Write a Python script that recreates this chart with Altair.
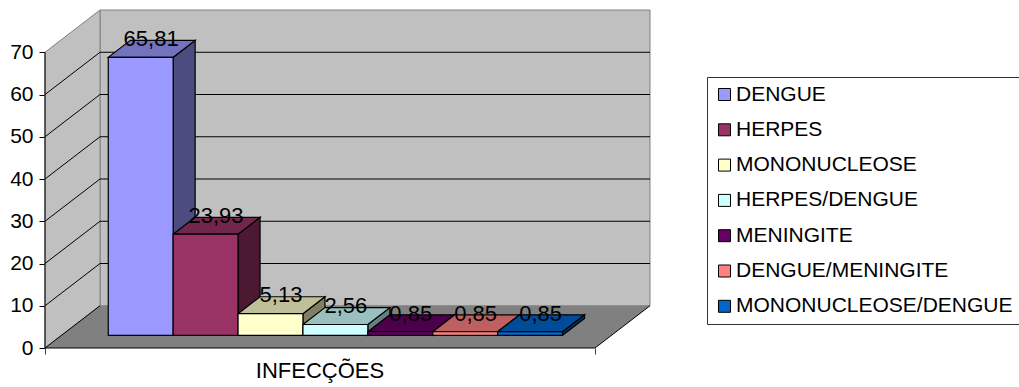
import altair as alt
import pandas as pd

# Share of infections by type (%)
categories = ["DENGUE", "HERPES", "MONONUCLEOSE", "HERPES/DENGUE",
              "MENINGITE", "DENGUE/MENINGITE", "MONONUCLEOSE/DENGUE"]
values = [65.81, 23.93, 5.13, 2.56, 0.85, 0.85, 0.85]
colors = ["#9999FF", "#993366", "#FFFFCC", "#CCFFFF",
          "#660066", "#FF8080", "#0066CC"]
y_ticks = [0, 10, 20, 30, 40, 50, 60, 70]
x_label = "INFECÇÕES"

FONT = "Liberation Sans"

# Pseudo-3D box: depth of the floor expressed in data units
DX, DY = 0.1, 10.0          # horizontal / vertical shift of the back plane
Y_MAX = y_ticks[-1]
BAR_W = 0.118               # width of one bar (category spans 0..1)
GAP = 0.085                 # empty space left of the first bar
F0, F1 = 0.3, 0.7           # front and back of the bars, as depth fractions


def shade(hex_color, k):
    r, g, b = (int(hex_color[i:i + 2], 16) for i in (1, 3, 5))
    return "#{:02X}{:02X}{:02X}".format(int(r * k), int(g * k), int(b * k))


front_rows, top_rows, side_rows, label_rows = [], [], [], []
for i, (cat, v, col) in enumerate(zip(categories, values, colors)):
    s = GAP + i * BAR_W
    fx, fy = F0 * DX, F0 * DY
    bx, by = F1 * DX, F1 * DY
    front_rows.append(dict(cat=cat, x=s + fx, x2=s + BAR_W + fx, y=fy, y2=fy + v))
    top = shade(col, 0.75)
    top_rows += [dict(cat=cat, fill=top, y=fy + v, x=s + fx, x2=s + BAR_W + fx),
                 dict(cat=cat, fill=top, y=by + v, x=s + bx, x2=s + BAR_W + bx)]
    side = shade(col, 0.5)
    side_rows += [dict(cat=cat, fill=side, x=s + BAR_W + fx, y=fy, y2=fy + v),
                  dict(cat=cat, fill=side, x=s + BAR_W + bx, y=by, y2=by + v)]
    label_rows.append(dict(cat=cat, x=s + 0.108, y=v + 7.3,
                           text=f"{v:.2f}".replace(".", ",")))

front_df = pd.DataFrame(front_rows)
top_df = pd.DataFrame(top_rows)
side_df = pd.DataFrame(side_rows)
label_df = pd.DataFrame(label_rows)

xs = alt.Scale(domain=[0, 1 + DX], nice=False, zero=False)
ys = alt.Scale(domain=[0, Y_MAX + DY], nice=False, zero=False)

# Same axis definitions in every layer so that they merge into one
x_axis = alt.Axis(values=[0, 1], labels=False, domain=False, grid=False,
                  tickSize=6, tickColor="#404040", title=None)
y_axis = alt.Axis(values=y_ticks, domain=False, grid=False, tickSize=6,
                  tickColor="black", labelFont=FONT, labelFontSize=21,
                  labelColor="black", labelPadding=6, title=None)


def X(f="x"):
    return alt.X(f"{f}:Q", scale=xs, axis=x_axis, stack=None)


def Y(f="y"):
    return alt.Y(f"{f}:Q", scale=ys, axis=y_axis, stack=None)


def segments(rows):
    return alt.Chart(pd.DataFrame(rows))


# Walls and floor
back_wall = segments([dict(x=DX, x2=1 + DX, y=DY, y2=Y_MAX + DY)]).mark_rect(
    fill="#C0C0C0", stroke="#808080", strokeWidth=1
).encode(x=X(), x2="x2:Q", y=Y(), y2="y2:Q")

left_wall = segments([dict(x=0, y=0, y2=Y_MAX),
                      dict(x=DX, y=DY, y2=Y_MAX + DY)]).mark_area(
    orient="vertical", fill="#C0C0C0", stroke="#808080", strokeWidth=1
).encode(x=X(), y=Y(), y2="y2:Q")

floor = segments([dict(y=0, x=0, x2=1),
                  dict(y=DY, x=DX, x2=1 + DX)]).mark_area(
    orient="horizontal", fill="#808080"
).encode(y=Y(), x=X(), x2="x2:Q")

# Grid lines on the back wall and on the left wall
back_grid = segments([dict(x=DX, x2=1 + DX, y=k + DY, y2=k + DY)
                      for k in y_ticks[1:-1]]).mark_rule(
    color="black", strokeWidth=1
).encode(x=X(), x2="x2:Q", y=Y(), y2="y2:Q")

side_grid = segments([dict(x=0, x2=DX, y=k, y2=k + DY)
                      for k in y_ticks[:-1]]).mark_rule(
    color="black", strokeWidth=1
).encode(x=X(), x2="x2:Q", y=Y(), y2="y2:Q")

# Front edge of the floor, its right edge and the value axis line
edges = segments([dict(x=1, x2=1 + DX, y=0, y2=DY),
                  dict(x=0, x2=1, y=0, y2=0),
                  dict(x=0, x2=0, y=0, y2=Y_MAX)]).mark_rule(
    color="black", strokeWidth=1
).encode(x=X(), x2="x2:Q", y=Y(), y2="y2:Q")

# Bars: side faces, top faces, then front faces
sides = alt.Chart(side_df).mark_area(
    orient="vertical", stroke="black", strokeWidth=1.2
).encode(x=X(), y=Y(), y2="y2:Q", fill=alt.Fill("fill:N", scale=None), detail="cat:N")

tops = alt.Chart(top_df).mark_area(
    orient="horizontal", stroke="black", strokeWidth=1.2
).encode(y=Y(), x=X(), x2="x2:Q", fill=alt.Fill("fill:N", scale=None), detail="cat:N")

fronts = alt.Chart(front_df).mark_rect(stroke="black", strokeWidth=1.2).encode(
    x=X(), x2="x2:Q", y=Y(), y2="y2:Q",
    color=alt.Color(
        "cat:N",
        sort=categories,
        scale=alt.Scale(domain=categories, range=colors),
        legend=alt.Legend(
            title=None, orient="none", legendX=662, legendY=67, direction="vertical",
            symbolType="square", symbolSize=144, symbolStrokeColor="black",
            symbolStrokeWidth=1, labelFont=FONT, labelFontSize=21, labelColor="black",
            labelLimit=400, labelOffset=1, rowPadding=13.3, padding=7,
            strokeColor="#333333", fillColor="white", cornerRadius=0,
        ),
    ),
)

labels = alt.Chart(label_df).mark_text(
    font=FONT, fontSize=22, color="black", align="center", baseline="middle"
).encode(x=X(), y=Y(), text="text:N")

category_title = segments([dict(x=0.5, y=-5.4, text=x_label)]).mark_text(
    font=FONT, fontSize=22, color="black", align="center", baseline="middle"
).encode(x=X(), y=Y(), text="text:N")

chart = alt.layer(
    back_wall, left_wall, floor, back_grid, side_grid, edges,
    sides, tops, fronts, labels, category_title,
).properties(
    width=605,
    height=338,
    padding={"left": 45, "top": 10, "right": 369, "bottom": 39},
    autosize=alt.AutoSizeParams(type="none"),
    background="white",
).configure_view(stroke=None)

chart.save("out.html", embed_options={"renderer": "svg", "actions": False})
